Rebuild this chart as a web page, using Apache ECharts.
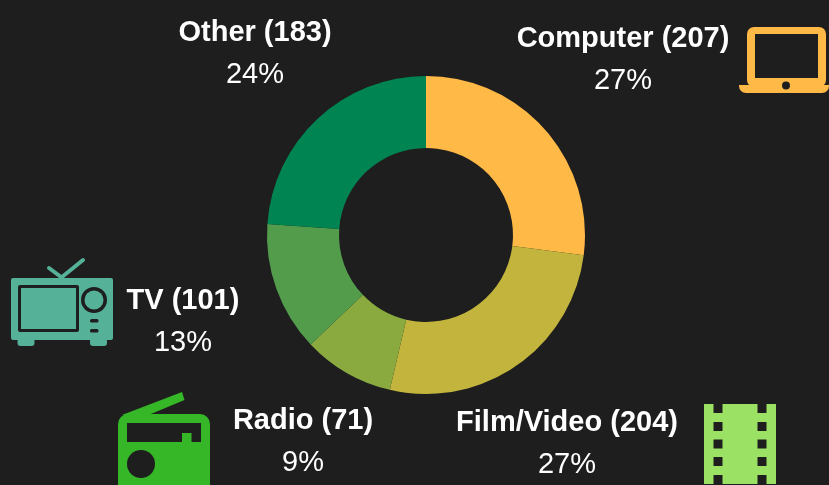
<!DOCTYPE html>
<html>
<head>
<meta charset="utf-8" />
<title>Devices</title>
<script src="https://cdn.jsdelivr.net/npm/echarts@6/dist/echarts.min.js"></script>
<style>
html, body { margin: 0; padding: 0; background: #1e1e1e; }
#chart { width: 829px; height: 485px; }
</style>
</head>
<body>
<div id="chart"></div>
<script>
var categories = ['Computer', 'Film/Video', 'Radio', 'TV', 'Other'];
var values = [207, 204, 71, 101, 183];
var sliceColors = ['#ffb947', '#c2b43c', '#8aaa40', '#529c4c', '#008452'];
// label centres, px
var labelX = [623, 567, 303, 183, 255];
var labelY = [60, 444, 442, 322, 54];

var bg = '#1e1e1e';
var tvColor = '#55b198', radioColor = '#36b728', filmColor = '#9be264', laptopColor = '#ffb947';

function rect(x, y, w, h, fill, r) {
	return { type: 'rect', shape: { x: x, y: y, width: w, height: h, r: r || 0 }, style: { fill: fill } };
}
function circle(cx, cy, r, fill) {
	return { type: 'circle', shape: { cx: cx, cy: cy, r: r }, style: { fill: fill } };
}
function line(x1, y1, x2, y2, color, w) {
	return { type: 'line', shape: { x1: x1, y1: y1, x2: x2, y2: y2 }, style: { stroke: color, lineWidth: w, lineCap: 'round' } };
}

// icons
var laptop = [
	rect(747, 27, 79, 60, laptopColor, 7),
	rect(755, 34, 63, 44, bg),
	rect(739, 85, 90, 8, laptopColor, [0, 0, 7, 7]),
	circle(786, 85.5, 4, bg)
];

var film = [rect(704, 404, 72, 80, filmColor)];
[404, 422, 439.5, 457, 475].forEach(function (y) {
	film.push(rect(713.5, y, 9, 9, bg));
	film.push(rect(757.5, y, 9, 9, bg));
});

var radio = [
	{ type: 'polygon', shape: { points: [[122, 415], [182, 392], [184.5, 400], [146, 416]] }, style: { fill: radioColor } },
	rect(118, 414, 92, 71, radioColor, [10, 10, 0, 0]),
	rect(127, 423, 74, 19, bg),
	rect(182, 433, 9.5, 9, radioColor),
	circle(141, 464, 14, bg)
];

var tv = [
	line(62, 277, 83, 260, tvColor, 4),
	line(49, 268, 61, 277, tvColor, 4),
	rect(11, 278, 102, 62, tvColor, 2),
	rect(17.5, 338, 17, 8, tvColor, 3),
	rect(90, 338, 17, 8, tvColor, 3),
	rect(18, 285, 61, 47, bg, 2),
	rect(21, 288, 55, 41, tvColor),
	circle(94, 300, 13, bg),
	circle(94, 300, 9.5, tvColor),
	rect(90, 319, 8.5, 3.5, bg, 1.5),
	rect(90, 329, 8.5, 3.5, bg, 1.5)
];

var pieData = categories.map(function (name, i) {
	return { name: name, value: values[i], itemStyle: { color: sliceColors[i] } };
});

var option = {
	backgroundColor: bg,
	animation: false,
	graphic: { elements: [].concat(laptop, film, radio, tv) },
	series: [{
		type: 'pie',
		center: [426, 235],
		radius: [87, 159],
		startAngle: 90,
		percentPrecision: 0,
		silent: true,
		data: pieData,
		labelLine: { show: false },
		label: {
			show: true,
			position: 'outside',
			formatter: '{n|{b} ({c})}\n{p|{d}%}',
			rich: {
				n: { fontFamily: 'Liberation Sans', fontWeight: 'bold', fontSize: 29, color: '#ffffff', lineHeight: 42, align: 'center' },
				p: { fontFamily: 'Liberation Sans', fontSize: 29, color: '#ffffff', lineHeight: 42, align: 'center' }
			}
		},
		labelLayout: function (params) {
			return {
				x: labelX[params.dataIndex],
				y: labelY[params.dataIndex],
				align: 'center',
				verticalAlign: 'middle',
				hideOverlap: false
			};
		}
	}]
};

var chart = echarts.init(document.getElementById('chart'));
chart.setOption(option);
</script>
</body>
</html>
